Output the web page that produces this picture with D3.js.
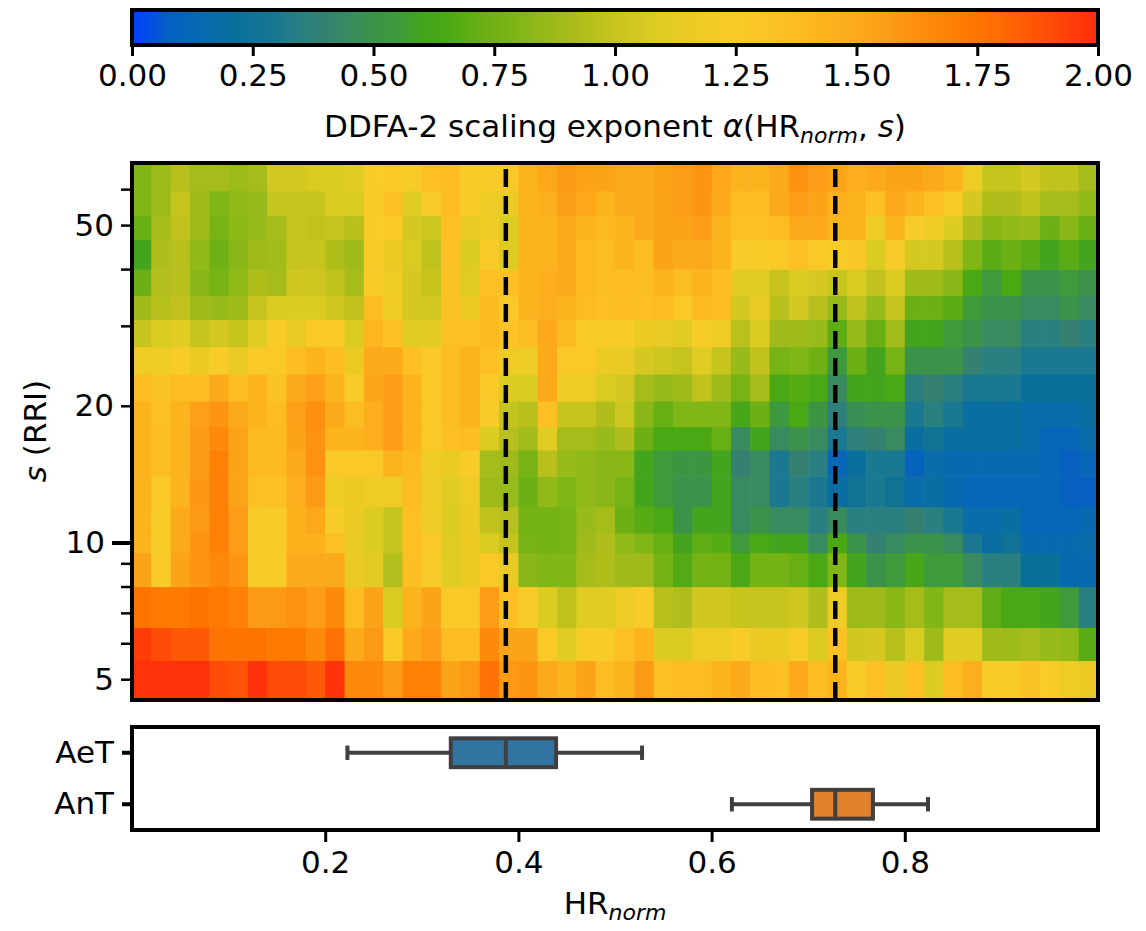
<!DOCTYPE html>
<html>
<head>
<meta charset="utf-8">
<script src="https://cdn.jsdelivr.net/npm/d3@7/dist/d3.min.js"></script>
<style>
  body { margin: 0; background: #fff; }
  text { font-family: "DejaVu Sans", sans-serif; fill: #000; }
</style>
</head>
<body>
<svg id="chart" width="1146" height="931"></svg>
<script>
// HR_norm bin centres (columns) and DFA scales s (rows, bottom to top)
const hrNorm = [0.01,0.03,0.05,0.07,0.09,0.11,0.13,0.15,0.17,0.19,
  0.21,0.23,0.25,0.27,0.29,0.31,0.33,0.35,0.37,0.39,
  0.41,0.43,0.45,0.47,0.49,0.51,0.53,0.55,0.57,0.59,
  0.61,0.63,0.65,0.67,0.69,0.71,0.73,0.75,0.77,0.79,
  0.81,0.83,0.85,0.87,0.89,0.91,0.93,0.95,0.97,0.99];
const scales = [5, 6, 7, 9, 10, 11, 13, 15, 17, 19, 22, 25, 29, 33, 37, 43, 50, 55, 64];

// alpha(HR_norm, s), one row per scale (same order as `scales`)
const alpha = [
  [1.98,1.98,1.98,1.98,1.90,1.88,1.98,1.90,1.90,1.86,1.98,1.65,1.65,1.58,1.70,1.70,1.53,1.58,1.77,1.58,1.60,1.50,1.43,1.53,1.37,1.43,1.58,1.35,1.37,1.37,1.43,1.50,1.37,1.35,1.50,1.37,1.43,1.24,1.35,1.16,1.35,1.08,1.37,1.47,1.24,1.24,1.33,1.24,1.18,1.16],
  [1.95,1.90,1.86,1.86,1.76,1.76,1.76,1.73,1.73,1.65,1.77,1.50,1.58,1.27,1.50,1.57,1.37,1.37,1.65,1.53,1.53,1.27,1.10,1.24,1.24,1.35,1.43,1.08,1.08,1.18,1.18,1.24,1.16,1.16,1.24,1.08,1.35,1.03,1.05,0.95,1.07,0.88,1.10,1.10,0.88,0.88,0.90,0.86,0.84,0.69],
  [1.76,1.73,1.73,1.76,1.73,1.70,1.58,1.58,1.62,1.57,1.65,1.37,1.53,1.07,1.43,1.53,1.27,1.27,1.57,1.35,1.24,1.08,0.98,1.10,1.10,1.18,1.24,0.95,0.93,1.03,1.03,1.00,1.00,1.00,1.03,0.93,1.18,0.88,0.88,0.82,0.90,0.80,0.90,0.90,0.70,0.65,0.65,0.60,0.55,0.35],
  [1.53,1.24,1.53,1.60,1.66,1.60,1.24,1.24,1.50,1.50,1.50,1.16,1.12,0.94,1.35,1.24,1.10,1.16,1.27,1.15,0.82,0.80,0.80,0.90,0.93,0.88,0.88,0.76,0.67,0.76,0.76,0.65,0.76,0.76,0.72,0.65,0.80,0.60,0.50,0.55,0.63,0.55,0.55,0.45,0.35,0.35,0.22,0.22,0.15,0.15],
  [1.43,1.24,1.50,1.60,1.70,1.57,1.24,1.24,1.45,1.45,1.35,1.15,1.08,1.00,1.35,1.27,1.10,1.16,1.08,0.99,0.77,0.76,0.77,0.88,0.93,0.84,0.80,0.72,0.60,0.70,0.68,0.55,0.65,0.60,0.60,0.45,0.65,0.50,0.40,0.45,0.50,0.50,0.45,0.30,0.20,0.25,0.15,0.15,0.15,0.17],
  [1.43,1.24,1.50,1.58,1.70,1.57,1.24,1.24,1.45,1.51,1.24,1.16,1.08,1.00,1.35,1.18,1.08,1.16,0.98,0.95,0.76,0.76,0.77,0.86,0.90,0.73,0.68,0.65,0.50,0.60,0.60,0.45,0.50,0.45,0.45,0.35,0.45,0.35,0.35,0.35,0.40,0.35,0.30,0.17,0.17,0.20,0.12,0.12,0.12,0.15],
  [1.43,1.27,1.43,1.59,1.70,1.53,1.35,1.35,1.47,1.58,1.18,1.16,1.18,1.18,1.37,1.18,1.10,1.18,0.88,0.86,0.73,0.84,0.80,0.84,0.82,0.77,0.60,0.55,0.50,0.50,0.60,0.45,0.45,0.30,0.35,0.30,0.20,0.25,0.30,0.25,0.17,0.20,0.15,0.12,0.12,0.12,0.12,0.12,0.08,0.08],
  [1.43,1.37,1.43,1.58,1.70,1.53,1.40,1.40,1.50,1.62,1.27,1.27,1.27,1.43,1.40,1.18,1.16,1.24,0.90,0.88,0.77,0.95,0.86,0.84,0.82,0.82,0.60,0.55,0.52,0.52,0.60,0.40,0.45,0.30,0.40,0.35,0.12,0.21,0.30,0.30,0.10,0.17,0.15,0.15,0.15,0.15,0.15,0.12,0.08,0.12],
  [1.43,1.37,1.43,1.58,1.65,1.53,1.40,1.40,1.53,1.62,1.43,1.43,1.47,1.57,1.43,1.27,1.35,1.37,1.08,0.95,0.89,1.10,0.90,0.90,0.86,0.93,0.73,0.65,0.65,0.65,0.72,0.45,0.60,0.45,0.50,0.45,0.30,0.37,0.40,0.45,0.20,0.25,0.20,0.20,0.20,0.20,0.17,0.12,0.12,0.17],
  [1.43,1.35,1.43,1.55,1.60,1.50,1.43,1.37,1.55,1.63,1.50,1.37,1.47,1.57,1.43,1.27,1.37,1.43,1.24,0.99,0.95,1.35,1.00,1.00,0.93,1.02,0.82,0.72,0.80,0.80,0.80,0.63,0.73,0.54,0.65,0.52,0.37,0.47,0.50,0.50,0.30,0.35,0.30,0.20,0.20,0.20,0.17,0.17,0.17,0.20],
  [1.37,1.32,1.37,1.37,1.50,1.37,1.43,1.32,1.50,1.55,1.43,1.24,1.52,1.57,1.43,1.27,1.37,1.43,1.27,1.08,1.08,1.50,1.18,1.18,1.07,1.05,0.90,0.86,0.88,0.98,0.88,0.77,0.90,0.65,0.68,0.65,0.45,0.60,0.60,0.65,0.35,0.40,0.35,0.30,0.30,0.30,0.22,0.22,0.22,0.22],
  [1.18,1.18,1.24,1.16,1.24,1.15,1.27,1.27,1.37,1.43,1.37,1.16,1.50,1.50,1.35,1.27,1.37,1.43,1.35,1.18,1.18,1.50,1.27,1.27,1.16,1.15,1.05,1.02,0.99,1.10,1.00,0.86,0.98,0.77,0.80,0.74,0.54,0.73,0.60,0.77,0.50,0.50,0.50,0.40,0.35,0.35,0.30,0.30,0.30,0.30],
  [1.00,1.07,1.10,1.00,1.04,1.00,1.10,1.24,1.15,1.27,1.27,1.07,1.41,1.35,1.10,1.12,1.35,1.35,1.40,1.32,1.37,1.50,1.40,1.27,1.24,1.24,1.16,1.15,1.10,1.24,1.18,0.96,1.08,0.88,0.88,0.86,0.70,0.86,0.72,0.89,0.60,0.60,0.55,0.50,0.45,0.45,0.35,0.35,0.40,0.35],
  [0.88,0.95,0.98,0.88,0.86,0.88,0.99,1.07,1.08,1.08,1.03,0.98,1.37,1.18,1.05,1.04,1.33,1.16,1.40,1.27,1.43,1.47,1.43,1.37,1.35,1.37,1.35,1.37,1.27,1.40,1.37,1.05,1.15,0.95,1.05,0.95,0.86,0.98,0.86,0.99,0.73,0.73,0.69,0.55,0.50,0.50,0.45,0.45,0.50,0.45],
  [0.73,0.94,0.95,0.82,0.77,0.84,0.93,0.90,1.03,1.02,0.98,0.90,1.24,1.18,1.05,1.00,1.33,1.10,1.35,1.35,1.43,1.47,1.50,1.40,1.37,1.37,1.37,1.43,1.37,1.43,1.37,1.10,1.10,1.00,1.08,1.05,1.00,1.07,0.98,1.08,0.88,0.88,0.82,0.65,0.55,0.65,0.50,0.50,0.55,0.50],
  [0.60,0.93,0.95,0.84,0.74,0.82,0.88,0.89,1.00,1.00,0.93,0.88,1.24,1.16,1.07,0.98,1.33,1.08,1.24,1.08,1.43,1.43,1.50,1.40,1.37,1.43,1.37,1.53,1.50,1.50,1.43,1.24,1.24,1.27,1.35,1.27,1.24,1.30,1.08,1.24,1.05,1.05,0.95,0.80,0.69,0.73,0.69,0.60,0.69,0.60],
  [0.72,0.90,0.98,0.88,0.77,0.83,0.86,0.90,1.00,0.98,0.99,0.95,1.24,1.27,1.05,1.02,1.35,1.15,1.18,1.08,1.43,1.43,1.50,1.43,1.40,1.43,1.50,1.53,1.53,1.57,1.43,1.35,1.35,1.37,1.50,1.50,1.43,1.43,1.18,1.43,1.24,1.18,1.08,0.93,0.82,0.84,0.86,0.73,0.82,0.72],
  [0.80,0.87,1.00,0.88,0.80,0.84,0.86,1.00,1.00,1.00,1.07,1.07,1.25,1.35,1.10,1.24,1.37,1.24,1.18,1.15,1.43,1.47,1.56,1.51,1.43,1.50,1.50,1.53,1.57,1.60,1.50,1.37,1.37,1.50,1.57,1.53,1.45,1.43,1.35,1.50,1.43,1.35,1.24,1.05,0.93,0.93,0.98,0.90,0.90,0.84],
  [0.80,0.87,0.95,0.90,0.90,0.87,0.90,1.05,1.05,1.07,1.07,1.10,1.23,1.27,1.24,1.35,1.37,1.24,1.24,1.27,1.43,1.51,1.58,1.53,1.53,1.50,1.50,1.53,1.57,1.60,1.51,1.43,1.43,1.50,1.62,1.57,1.53,1.47,1.50,1.53,1.53,1.50,1.43,1.18,1.00,1.00,1.05,0.98,0.98,0.90]
];

// threshold boxplots (HR_norm)
const boxLabels = ["AeT", "AnT"];
const boxLow = [0.223, 0.621];
const boxQ1 = [0.330, 0.704];
const boxMed = [0.387, 0.728];
const boxQ3 = [0.439, 0.767];
const boxHigh = [0.528, 0.824];
const boxColors = ["#3274a1", "#e1812c"];

const cbarTicks = [0, 0.25, 0.5, 0.75, 1, 1.25, 1.5, 1.75, 2];
const hrTicks = [0.2, 0.4, 0.6, 0.8];
const sMinorTicks = [5, 6, 7, 8, 9, 20, 30, 40, 50, 60];
const sLabelled = [5, 20, 50];

// colour map (blue -> teal -> green -> yellow -> orange -> red)
const cmapVals = [0, 0.08, 0.12, 0.17, 0.22, 0.30, 0.35, 0.40, 0.45, 0.50, 0.55, 0.60, 0.65, 0.73, 0.80, 0.86, 0.93, 1.00, 1.08, 1.16, 1.24, 1.35, 1.43, 1.50, 1.57, 1.65, 1.73, 1.80, 1.88, 2.0];
const cmapCols = ["#0040ff", "#0560c0", "#0666b8", "#0a6ca8", "#0a709a", "#1a7890", "#2a8080", "#358070", "#3a8a60", "#3c9248", "#3e9a3a", "#44a41e", "#4aa814", "#6cb014", "#80b616", "#98ba1a", "#b0be1c", "#c8c41e", "#dccc22", "#ecca24", "#f8cc28", "#fcc024", "#fcb41e", "#fcaa1a", "#fd9c16", "#fe8a0c", "#ff7a02", "#ff6a04", "#ff5206", "#ff2c0a"];
const color = d3.scaleLinear().domain(cmapVals).range(cmapCols).clamp(true);

const FS = 31;
const svg = d3.select("#chart");
const left = 132, right = 1098;

// cell edges at midpoints between centres (nearest shading)
function edges(c) {
  const e = [c[0] - (c[1] - c[0]) / 2];
  for (let i = 0; i < c.length - 1; i++) e.push((c[i] + c[i + 1]) / 2);
  e.push(c[c.length - 1] + (c[c.length - 1] - c[c.length - 2]) / 2);
  return e;
}
const xEdges = edges(hrNorm);
const yEdges = edges(scales);

const x = d3.scaleLinear().domain([xEdges[0], xEdges[xEdges.length - 1]]).range([left, right]);
const y = d3.scaleLog().domain([yEdges[0], yEdges[yEdges.length - 1]]).range([700, 163]);

// ---- colorbar ----
const cb = { top: 10, bottom: 45 };
const grad = svg.append("defs").append("linearGradient").attr("id", "cbar");
cmapVals.forEach((v, i) => grad.append("stop").attr("offset", v / 2).attr("stop-color", cmapCols[i]));
svg.append("rect").attr("x", left).attr("y", cb.top).attr("width", right - left)
  .attr("height", cb.bottom - cb.top).attr("fill", "url(#cbar)");
const cx = d3.scaleLinear().domain([0, 2]).range([left, right]);
const cbAxis = svg.append("g").attr("transform", `translate(0,${cb.bottom})`)
  .call(d3.axisBottom(cx).tickValues(cbarTicks).tickFormat(d3.format(".2f")).tickSize(11).tickPadding(8));
cbAxis.select(".domain").remove();
cbAxis.selectAll(".tick line").attr("stroke", "#000").attr("stroke-width", 3);
cbAxis.selectAll(".tick text").attr("font-size", FS);
svg.append("rect").attr("x", left).attr("y", cb.top).attr("width", right - left)
  .attr("height", cb.bottom - cb.top).attr("fill", "none").attr("stroke", "#000").attr("stroke-width", 4);

const cbLabel = svg.append("text").attr("x", 615).attr("y", 137).attr("text-anchor", "middle").attr("font-size", FS);
cbLabel.append("tspan").text("DDFA-2 scaling exponent ");
cbLabel.append("tspan").attr("font-style", "italic").text("α");
cbLabel.append("tspan").text("(HR");
cbLabel.append("tspan").attr("font-style", "italic").attr("font-size", 22).attr("dy", 6).text("norm");
cbLabel.append("tspan").attr("dy", -6).text(", ");
cbLabel.append("tspan").attr("font-style", "italic").text("s");
cbLabel.append("tspan").text(")");

// ---- heatmap ----
const cells = [];
alpha.forEach((row, i) => row.forEach((v, j) => cells.push({ i, j, v })));
svg.append("g").selectAll("rect").data(cells).join("rect")
  .attr("x", d => x(xEdges[d.j]))
  .attr("y", d => y(yEdges[d.i + 1]))
  .attr("width", d => x(xEdges[d.j + 1]) - x(xEdges[d.j]) + 0.6)
  .attr("height", d => y(yEdges[d.i]) - y(yEdges[d.i + 1]) + 0.6)
  .attr("fill", d => color(d.v));

// threshold medians as dashed lines
svg.append("g").selectAll("line").data(boxMed).join("line")
  .attr("x1", d => x(d)).attr("x2", d => x(d))
  .attr("y1", 700).attr("y2", 163)
  .attr("stroke", "#000").attr("stroke-width", 4.5).attr("stroke-dasharray", "18,9");

const minorAxis = svg.append("g").attr("transform", `translate(${left},0)`)
  .call(d3.axisLeft(y).tickValues(sMinorTicks).tickSize(11).tickPadding(7)
    .tickFormat(d => sLabelled.includes(d) ? d : ""));
minorAxis.select(".domain").remove();
minorAxis.selectAll(".tick line").attr("stroke", "#000").attr("stroke-width", 2.5);
minorAxis.selectAll(".tick text").attr("font-size", FS);
const majorAxis = svg.append("g").attr("transform", `translate(${left},0)`)
  .call(d3.axisLeft(y).tickValues([10]).tickSize(20).tickPadding(7).tickFormat(d => d));
majorAxis.select(".domain").remove();
majorAxis.selectAll(".tick line").attr("stroke", "#000").attr("stroke-width", 4);
majorAxis.selectAll(".tick text").attr("font-size", FS);

svg.append("rect").attr("x", left).attr("y", 163).attr("width", right - left).attr("height", 537)
  .attr("fill", "none").attr("stroke", "#000").attr("stroke-width", 4);

const yLabel = svg.append("text").attr("transform", "translate(46,431) rotate(-90)")
  .attr("text-anchor", "middle").attr("font-size", FS);
yLabel.append("tspan").attr("font-style", "italic").text("s");
yLabel.append("tspan").text(" (RRI)");

// ---- boxplot panel ----
const bp = { top: 727, bottom: 830 };
const band = d3.scaleBand().domain(boxLabels).range([bp.top, bp.bottom]);
const boxH = band.bandwidth() * 0.56;
const boxes = svg.append("g").selectAll("g").data(boxLabels).join("g");
const cyOf = (d) => band(d) + band.bandwidth() / 2;
boxes.append("line").attr("x1", (d, i) => x(boxLow[i])).attr("x2", (d, i) => x(boxQ1[i]))
  .attr("y1", cyOf).attr("y2", cyOf);
boxes.append("line").attr("x1", (d, i) => x(boxQ3[i])).attr("x2", (d, i) => x(boxHigh[i]))
  .attr("y1", cyOf).attr("y2", cyOf);
boxes.append("line").attr("x1", (d, i) => x(boxLow[i])).attr("x2", (d, i) => x(boxLow[i]))
  .attr("y1", d => cyOf(d) - boxH / 4).attr("y2", d => cyOf(d) + boxH / 4);
boxes.append("line").attr("x1", (d, i) => x(boxHigh[i])).attr("x2", (d, i) => x(boxHigh[i]))
  .attr("y1", d => cyOf(d) - boxH / 4).attr("y2", d => cyOf(d) + boxH / 4);
boxes.append("rect").attr("x", (d, i) => x(boxQ1[i])).attr("width", (d, i) => x(boxQ3[i]) - x(boxQ1[i]))
  .attr("y", d => cyOf(d) - boxH / 2).attr("height", boxH)
  .attr("fill", (d, i) => boxColors[i]);
boxes.append("line").attr("x1", (d, i) => x(boxMed[i])).attr("x2", (d, i) => x(boxMed[i]))
  .attr("y1", d => cyOf(d) - boxH / 2).attr("y2", d => cyOf(d) + boxH / 2);
boxes.selectAll("line, rect").attr("stroke", "#3f3f3f").attr("stroke-width", 4);

const catAxis = svg.append("g").attr("transform", `translate(${left},0)`)
  .call(d3.axisLeft(band).tickSize(10).tickPadding(8));
catAxis.select(".domain").remove();
catAxis.selectAll(".tick line").attr("stroke", "#000").attr("stroke-width", 4);
catAxis.selectAll(".tick text").attr("font-size", FS);

const hrAxis = svg.append("g").attr("transform", `translate(0,${bp.bottom})`)
  .call(d3.axisBottom(x).tickValues(hrTicks).tickFormat(d3.format(".1f")).tickSize(12).tickPadding(9));
hrAxis.select(".domain").remove();
hrAxis.selectAll(".tick line").attr("stroke", "#000").attr("stroke-width", 3);
hrAxis.selectAll(".tick text").attr("font-size", FS);

svg.append("rect").attr("x", left).attr("y", bp.top).attr("width", right - left).attr("height", bp.bottom - bp.top)
  .attr("fill", "none").attr("stroke", "#000").attr("stroke-width", 4);

const xLabel = svg.append("text").attr("x", 615).attr("y", 914).attr("text-anchor", "middle").attr("font-size", FS);
xLabel.append("tspan").text("HR");
xLabel.append("tspan").attr("font-style", "italic").attr("font-size", 22).attr("dy", 6).text("norm");
</script>
</body>
</html>
